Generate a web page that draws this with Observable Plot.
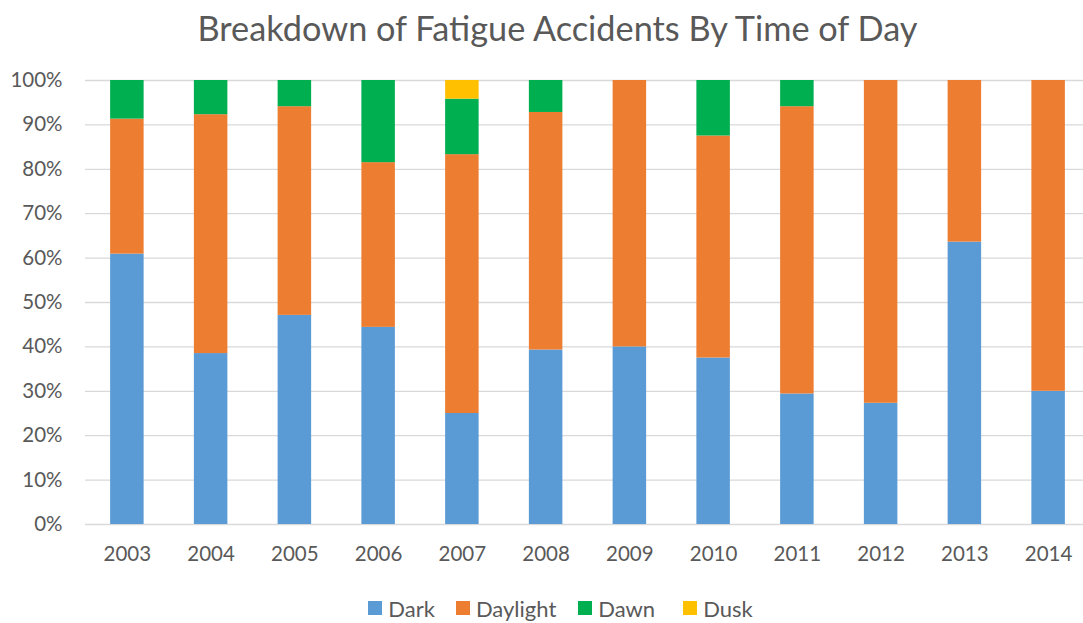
<!DOCTYPE html>
<html>
<head>
<meta charset="utf-8">
<script src="https://cdn.jsdelivr.net/npm/d3@7"></script>
<script src="https://cdn.jsdelivr.net/npm/@observablehq/plot@0.6"></script>
<style>
  html, body { margin: 0; padding: 0; background: #fff; }
  body { width: 1083px; height: 623px; overflow: hidden; font-family: Lato, "Open Sans", sans-serif; color: #595959; }
  #title { height: 60px; line-height: 56px; text-align: center; font-size: 34.3px; font-weight: 400; color: #595959; padding-left: 32px; }
  #chart svg { overflow: hidden; }
  #legend { position: absolute; top: 594px; left: 0; width: 1083px; height: 28px; display: flex; justify-content: center; align-items: center; font-size: 22px; color: #595959; padding-left: 38px; box-sizing: border-box; }
  #legend .item { display: flex; align-items: center; gap: 6px; }
  #legend .sw { width: 14px; height: 14px; display: inline-block; }
</style>
</head>
<body>
<div id="title">Breakdown of Fatigue Accidents By Time of Day</div>
<div id="chart"></div>
<div id="legend"></div>
<script>
const years = ["2003","2004","2005","2006","2007","2008","2009","2010","2011","2012","2013","2014"];
const series = ["Dark", "Daylight", "Dawn", "Dusk"];
const colors = ["#5B9BD5", "#ED7D31", "#00B050", "#FFC000"];
// percentages
const dark     = [60.9, 38.5, 47.1, 44.4, 25.0, 39.3, 40.0, 37.5, 29.4, 27.3, 63.6, 30.0];
const daylight = [30.4, 53.8, 47.0, 37.1, 58.3, 53.5, 60.0, 50.0, 64.7, 72.7, 36.4, 70.0];
const dawn     = [ 8.7,  7.7,  5.9, 18.5, 12.5,  7.2,  0.0, 12.5,  5.9,  0.0,  0.0,  0.0];
const dusk     = [ 0.0,  0.0,  0.0,  0.0,  4.2,  0.0,  0.0,  0.0,  0.0,  0.0,  0.0,  0.0];
const yTicks = [0, 0.1, 0.2, 0.3, 0.4, 0.5, 0.6, 0.7, 0.8, 0.9, 1.0];
const legendGaps = [21, 22, 28, 0];

const valuesBySeries = [dark, daylight, dawn, dusk];
const table = [];
years.forEach((yr, i) => {
  series.forEach((s, j) => {
    table.push({year: yr, series: s, value: valuesBySeries[j][i] / 100});
  });
});

const chart = Plot.plot({
  width: 1083,
  height: 515,
  marginTop: 20,
  marginBottom: 51,
  marginLeft: 85,
  marginRight: 0,
  style: { fontFamily: "Lato, 'Open Sans', sans-serif", fontSize: "20px", color: "#595959", background: "#fff" },
  x: { domain: years, range: [85, 1090], paddingInner: 0.6, paddingOuter: 0.3, round: false, label: null },
  y: { domain: [0, 1], label: null },
  color: { domain: series, range: colors },
  marks: [
    Plot.ruleY(yTicks, { stroke: "#d9d9d9", strokeWidth: 1.3 }),
    Plot.barY(table, Plot.stackY({ x: "year", y: "value", fill: "series", order: series })),
    Plot.axisX({ tickSize: 0, tickPadding: 22, fill: "#595959", fontSize: 20.5 }),
    Plot.axisY({ ticks: yTicks, tickFormat: d3.format(".0%"), tickSize: 0, tickPadding: 23, fill: "#595959", fontSize: 20.5 })
  ]
});
document.getElementById("chart").appendChild(chart);

const legend = document.getElementById("legend");
series.forEach((s, j) => {
  const it = document.createElement("div");
  it.className = "item";
  it.style.marginRight = legendGaps[j] + "px";
  const sw = document.createElement("span");
  sw.className = "sw";
  sw.style.background = colors[j];
  const t = document.createElement("span");
  t.textContent = s;
  it.appendChild(sw);
  it.appendChild(t);
  legend.appendChild(it);
});
</script>
</body>
</html>
